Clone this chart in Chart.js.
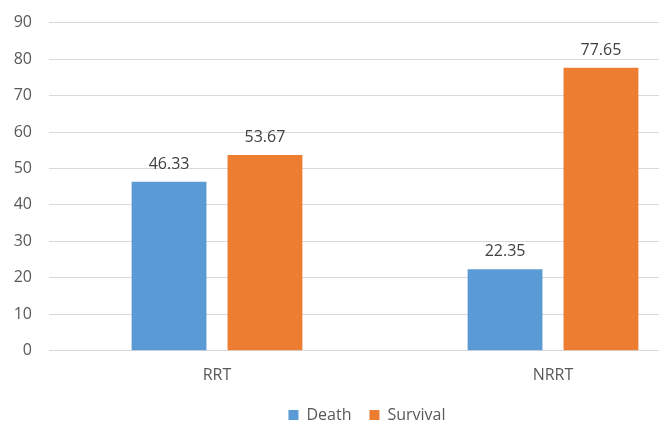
<!DOCTYPE html>
<html>
<head>
<meta charset="utf-8">
<script src="https://cdn.jsdelivr.net/npm/chart.js@4"></script>
<style>
  html, body { margin: 0; padding: 0; background: #fff; overflow: hidden; }
  #wrap { width: 750px; height: 421px; overflow: hidden; }
  #c { display: block; margin-top: -4px; }
</style>
</head>
<body>
<div id="wrap"><canvas id="c" width="750" height="425"></canvas></div>
<script>
const categories = ['RRT', 'NRRT'];
const deathValues = [46.33, 22.35];
const survivalValues = [53.67, 77.65];
const seriesNames = ['Death', 'Survival'];

const FONT = "'Open Sans', 'Liberation Sans', sans-serif";

// Writes each bar's value just above it
const valueLabels = {
  id: 'valueLabels',
  afterDatasetsDraw(chart) {
    const ctx = chart.ctx;
    ctx.save();
    ctx.font = '16px ' + FONT;
    ctx.fillStyle = '#404040';
    ctx.textAlign = 'center';
    ctx.textBaseline = 'alphabetic';
    chart.data.datasets.forEach((ds, i) => {
      chart.getDatasetMeta(i).data.forEach((bar, j) => {
        ctx.fillText(ds.data[j].toFixed(2), bar.x, bar.y - 13);
      });
    });
    ctx.restore();
  }
};

new Chart(document.getElementById('c'), {
  type: 'bar',
  data: {
    labels: categories,
    datasets: [
      { label: seriesNames[0], data: deathValues, backgroundColor: '#5B9BD5' },
      { label: seriesNames[1], data: survivalValues, backgroundColor: '#ED7D31' }
    ]
  },
  options: {
    responsive: false,
    animation: false,
    layout: { padding: { left: 13, right: 29, top: 0, bottom: -12 } },
    datasets: { bar: { categoryPercentage: 0.571, barPercentage: 0.78 } },
    scales: {
      x: {
        grid: { display: false, drawTicks: false },
        border: { color: '#d9d9d9', width: 1 },
        ticks: { color: '#595959', font: { family: FONT, size: 16 }, padding: 15 },
        afterFit(scale) { scale.height -= 11; }
      },
      y: {
        min: 0, max: 90,
        ticks: { stepSize: 10, color: '#595959', font: { family: FONT, size: 16 }, padding: 17 },
        grid: { color: '#d9d9d9', drawTicks: false },
        border: { display: false },
        afterFit(scale) { scale.width = 36; }
      }
    },
    plugins: {
      legend: {
        position: 'bottom',
        labels: {
          boxWidth: 10, boxHeight: 10, padding: 18,
          color: '#595959', font: { family: FONT, size: 16 }
        }
      },
      tooltip: { enabled: false }
    }
  },
  plugins: [valueLabels]
});
</script>
</body>
</html>
